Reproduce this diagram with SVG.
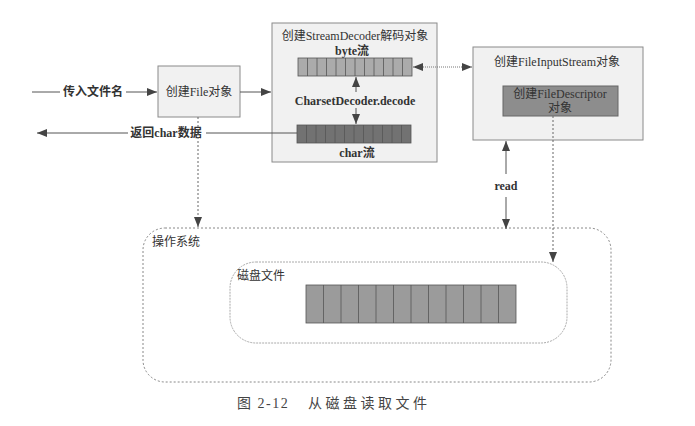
<svg xmlns="http://www.w3.org/2000/svg" width="695" height="426" viewBox="0 0 695 426">
<defs>
<style>
.t{font-family:"Liberation Serif","Noto Sans CJK SC",serif;font-size:12px;fill:#333;text-anchor:middle}
.b{font-weight:bold}
.box{fill:#f1f1f1;stroke:#8a8a8a;stroke-width:1}
.ln{stroke:#555;stroke-width:1;fill:none}
.dot{stroke:#666;stroke-width:1;stroke-dasharray:2 2;fill:none}
.cell{stroke:#555;stroke-width:0.8}
.cap{font-family:"Liberation Serif","Noto Sans CJK SC",serif;font-size:14px;fill:#444}
</style>
<marker id="ah" viewBox="0 0 10 8" refX="10" refY="4" markerWidth="10" markerHeight="8" orient="auto-start-reverse" markerUnits="userSpaceOnUse">
<path d="M0,0 L10,4 L0,8 Z" fill="#444"/>
</marker>
</defs>
<rect width="695" height="426" fill="#fff"/>

<g id="os">
<rect x="143" y="228" width="468" height="154" rx="22" fill="none" stroke="#888" stroke-dasharray="2 2"/>
<text class="t" x="152" y="246" style="text-anchor:start;font-family:'Noto Sans CJK SC',sans-serif;font-size:12px">操作系统</text>
</g>

<g id="disk">
<rect x="230" y="262" width="337" height="81" rx="26" fill="none" stroke="#aaa" stroke-dasharray="2 1"/>
<text class="t" x="237" y="280" style="text-anchor:start;font-family:'Noto Sans CJK SC',sans-serif;font-size:12px">磁盘文件</text>
<g fill="#9b9b9b" class="cell">
<rect x="306" y="285" width="210" height="38"/>
<path d="M323.5,285V323M341,285V323M358.5,285V323M376,285V323M393.5,285V323M411,285V323M428.5,285V323M446,285V323M463.5,285V323M481,285V323M498.5,285V323"/>
</g>
</g>

<g id="file">
<rect class="box" x="158" y="66" width="82" height="51"/>
<text class="t" x="199" y="96">创建File对象</text>
</g>

<g id="decoder">
<rect class="box" x="272" y="23" width="165" height="139"/>
<text class="t" x="355" y="40">创建StreamDecoder解码对象</text>
<text class="t b" x="352" y="55">byte流</text>
<g fill="#ababab" class="cell">
<rect x="298" y="58" width="114" height="18"/>
<path d="M307.5,58V76M317,58V76M326.5,58V76M336,58V76M345.5,58V76M355,58V76M364.5,58V76M374,58V76M383.5,58V76M393,58V76M402.5,58V76"/>
</g>
<text class="t b" x="355" y="105">CharsetDecoder.decode</text>
<g fill="#727272" class="cell">
<rect x="297" y="125" width="114" height="18"/>
<path d="M306.5,125V143M316,125V143M325.5,125V143M335,125V143M344.5,125V143M354,125V143M363.5,125V143M373,125V143M382.5,125V143M392,125V143M401.5,125V143"/>
</g>
<text class="t b" x="357" y="157">char流</text>
</g>

<g id="fis">
<rect class="box" x="473" y="47" width="170" height="93"/>
<text class="t" x="557" y="66">创建FileInputStream对象</text>
<rect x="503" y="86" width="115" height="30" fill="#8d8d8d" stroke="#666"/>
<text class="t" x="560" y="98">创建FileDescriptor</text>
<text class="t" x="560" y="112">对象</text>
</g>

<g id="connectors">
<line class="ln" x1="32" y1="92" x2="60" y2="92"/>
<text class="t b" x="93" y="96">传入文件名</text>
<line class="ln" x1="126" y1="92" x2="157" y2="92" marker-end="url(#ah)"/>
<line class="ln" x1="240" y1="92" x2="271" y2="92" marker-end="url(#ah)"/>
<line class="ln" x1="297" y1="133" x2="206" y2="133"/>
<text class="t b" x="166" y="137">返回char数据</text>
<line class="ln" x1="128" y1="133" x2="37" y2="133" marker-end="url(#ah)"/>
<line class="dot" x1="198" y1="117" x2="198" y2="227" marker-end="url(#ah)"/>
<line class="ln" x1="356" y1="92" x2="356" y2="77" marker-end="url(#ah)"/>
<line class="ln" x1="356" y1="108" x2="356" y2="124" marker-end="url(#ah)"/>
<line x1="413" y1="67" x2="472" y2="67" stroke="#777" stroke-width="1" stroke-dasharray="1 1" marker-start="url(#ah)" marker-end="url(#ah)"/>
<line class="ln" x1="506" y1="141" x2="506" y2="174" marker-start="url(#ah)"/>
<text class="t b" x="506" y="190">read</text>
<line class="ln" x1="506" y1="197" x2="506" y2="229" marker-end="url(#ah)"/>
<line class="dot" x1="553" y1="116" x2="553" y2="262" marker-end="url(#ah)"/>
</g>

<text class="cap" x="237" y="408" style="letter-spacing:1.5px">图 2-12</text>
<text class="cap" x="308" y="408" style="letter-spacing:3.5px">从磁盘读取文件</text>
</svg>
